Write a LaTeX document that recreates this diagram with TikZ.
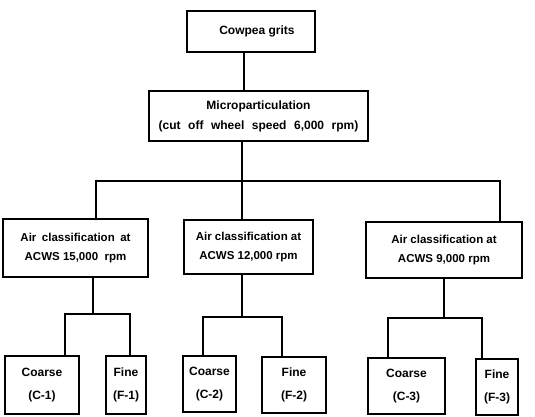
\documentclass[tikz,border=0pt]{standalone}
\usepackage{fontspec}
\setmainfont{Liberation Sans}
\begin{document}
\begin{tikzpicture}[x=1pt,y=-1pt,
  box/.style={draw,line width=1.2pt,align=center,inner sep=0pt,font=\bfseries\fontsize{12}{19}\selectfont},
  airbox/.style={box,font=\bfseries\fontsize{11.5}{18.5}\selectfont},
  leafbox/.style={box,font=\bfseries\fontsize{12}{23}\selectfont},
  conn/.style={line width=1.1pt}]
\useasboundingbox (0,0) rectangle (535,416);
\node[box,minimum width=128,minimum height=41] (top) at (251,31.5) {\hspace*{12pt}Cowpea grits};
\node[box,minimum width=219,minimum height=50,font=\bfseries\fontsize{12}{20}\selectfont] (micro) at (258.5,116) {Microparticulation\\\spaceskip=7.5pt (cut off wheel speed 6,000 rpm)};
\node[airbox,minimum width=145,minimum height=58] (a1) at (75.5,248) {\spaceskip=5.5pt Air classification at\\ACWS 15,000 \ rpm};
\node[airbox,minimum width=129,minimum height=54] (a2) at (248.5,247) {Air classification at\\ACWS 12,000 rpm};
\node[airbox,minimum width=156,minimum height=56] (a3) at (444,250) {Air classification at\\ACWS 9,000 rpm};
\node[leafbox,minimum width=74,minimum height=58] (c1) at (42,385) {Coarse\\(C-1)};
\node[leafbox,minimum width=40,minimum height=58] (f1) at (126,385) {Fine\\(F-1)};
\node[leafbox,minimum width=53,minimum height=56] (c2) at (209.5,384) {Coarse\\(C-2)};
\node[leafbox,minimum width=64,minimum height=56] (f2) at (294,385) {Fine\\(F-2)};
\node[leafbox,minimum width=77,minimum height=56] (c3) at (406.5,386) {Coarse\\(C-3)};
\node[leafbox,minimum width=42,minimum height=56] (f3) at (497,387) {Fine\\(F-3)};
% level 0
\coordinate (t0) at (244,0);
\draw[conn] (t0 |- top.south) -- (t0 |- micro.north);
% level 1
\coordinate (b1) at (96,181);
\coordinate (b2) at (242,181);
\coordinate (b3) at (500,181);
\draw[conn] (b2 |- micro.south) -- (b2);
\draw[conn] (b1 |- a1.north) -- (b1) -- (b3) -- (b3 |- a3.north);
\draw[conn] (b2) -- (b2 |- a2.north);
% level 2, group 1
\coordinate (g1) at (93,314);
\coordinate (g1l) at (65,314);
\coordinate (g1r) at (130,314);
\draw[conn] (g1 |- a1.south) -- (g1);
\draw[conn] (g1l |- c1.north) -- (g1l) -- (g1r) -- (g1r |- f1.north);
% group 2
\coordinate (g2) at (242,317);
\coordinate (g2l) at (203,317);
\coordinate (g2r) at (282,317);
\draw[conn] (g2 |- a2.south) -- (g2);
\draw[conn] (g2l |- c2.north) -- (g2l) -- (g2r) -- (g2r |- f2.north);
% group 3
\coordinate (g3) at (444,318);
\coordinate (g3l) at (388,318);
\coordinate (g3r) at (482,318);
\draw[conn] (g3 |- a3.south) -- (g3);
\draw[conn] (g3l |- c3.north) -- (g3l) -- (g3r) -- (g3r |- f3.north);
\end{tikzpicture}
\end{document}
